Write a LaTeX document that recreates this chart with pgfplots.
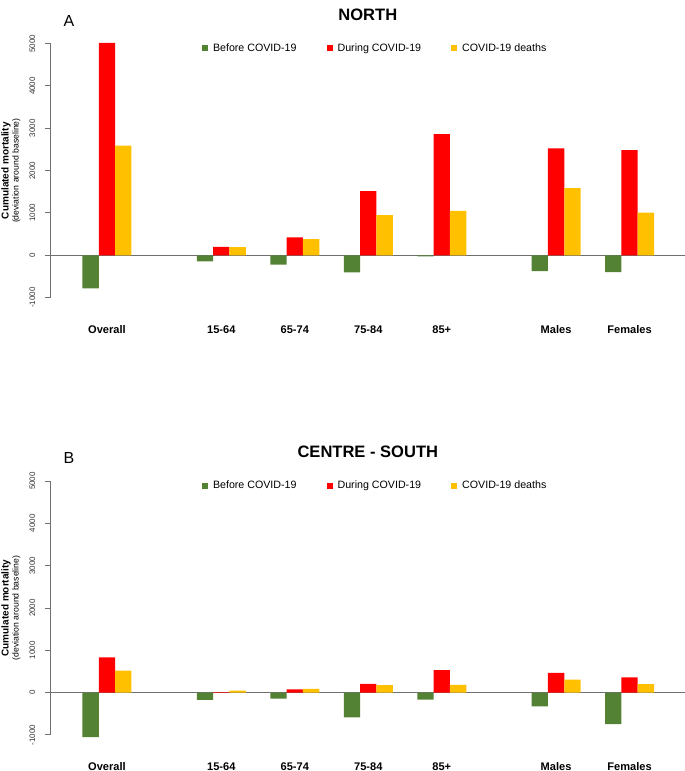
\documentclass[border=0pt]{standalone}
\usepackage{fontspec}
\setmainfont{Liberation Sans}
\usepackage{pgfplots}
\usepackage{pgfplotstable}
\pgfplotsset{compat=1.18}
\definecolor{cgreen}{HTML}{548235}
\definecolor{cred}{HTML}{FF0000}
\definecolor{cyellow}{HTML}{FFC000}
\definecolor{axgray}{HTML}{707070}

\pgfplotstableread{
x before during deaths
0 -780 5020 2590
7 -140 200 195
11.5 -220 425 385
16 -405 1515 950
20.5 -25 2865 1050
27.5 -375 2525 1585
32 -395 2485 1010
}\north

\pgfplotstableread{
x before during deaths
0 -1050 835 520
7 -170 15 48
11.5 -140 80 88
16 -585 207 176
20.5 -165 533 183
27.5 -325 466 308
32 -745 360 199
}\south

\pgfplotsset{panel/.style={
  scale only axis, width=475.7pt, height=190.5pt,
  xmin=-3.448, xmax=35.39, ymin=-1000, ymax=5000,
  clip=false,
  axis lines*=left,
  x axis line style={draw=none},
  y axis line style={draw=axgray, line width=0.75pt},
  xtick={0,7,11.5,16,20.5,27.5,32},
  xticklabels={Overall,15-64,65-74,75-84,85+,Males,Females},
  x tick style={draw=none},
  xticklabel style={font=\bfseries\fontsize{8.3}{10}\selectfont, anchor=center, yshift=-19.2pt},
  ytick={-1000,0,1000,2000,3000,4000,5000},
  yticklabels={-1000,0,1000,2000,3000,4000,5000},
  y tick style={draw=axgray, line width=0.75pt},
  tick align=outside, major tick length=4.5pt,
  yticklabel style={rotate=90, anchor=center, yshift=9.3pt, font=\fontsize{6}{7}\selectfont, text=black!80},
  ylabel={\textbf{Cumulated mortality}\\{\fontsize{6.5}{7.5}\selectfont(deviation around baseline)}},
  ylabel style={align=center, font=\fontsize{7.5}{7.5}\selectfont, at={(axis description cs:-0.0626,0.5)}, anchor=center},
  legend columns=3,
  legend style={draw=none, fill=none, inner sep=0pt, outer sep=0pt, font=\fontsize{8}{9.6}\selectfont,
    at={(axis description cs:0.2386,0.982)}, anchor=west,
    nodes={inner sep=0pt},
    /tikz/every even column/.append style={column sep=22.5pt},
    /tikz/every odd column/.append style={column sep=3.75pt}},
  title style={at={(axis description cs:0.5,1.082)}, anchor=center, font=\bfseries\fontsize{12.4}{14}\selectfont},
}}

\begin{document}
\begin{tikzpicture}
\useasboundingbox (0,0) rectangle (513.75pt,578.25pt);
\begin{axis}[panel, at={(38pt,355pt)}, anchor=south west, title={NORTH}]
\addplot[axgray, line width=0.75pt, forget plot] coordinates {(-3.448,0) (35.39,0)};
\addplot[axgray, line width=0.75pt, forget plot] coordinates {(-3.448,-1000) (-3.448,5000)};
\addplot[ybar, bar width=1, bar shift=-1, fill=cgreen, draw=none,
  legend image code/.code={\fill[cgreen] (0pt,-2.25pt) rectangle (4.5pt,2.25pt);}] table[x=x,y=before]{\north};
\addplot[ybar, bar width=1, bar shift=0, fill=cred, draw=none,
  legend image code/.code={\fill[cred] (0pt,-2.25pt) rectangle (4.5pt,2.25pt);}] table[x=x,y=during]{\north};
\addplot[ybar, bar width=1, bar shift=1, fill=cyellow, draw=none,
  legend image code/.code={\fill[cyellow] (0pt,-2.25pt) rectangle (4.5pt,2.25pt);}] table[x=x,y=deaths]{\north};
\legend{Before COVID-19,During COVID-19,COVID-19 deaths}
\node[font=\fontsize{12}{14}\selectfont] at (rel axis cs:0.0289,1.089) {A};
\end{axis}
\begin{axis}[panel, at={(38pt,27pt)}, anchor=south west, title={CENTRE - SOUTH}]
\addplot[axgray, line width=0.75pt, forget plot] coordinates {(-3.448,0) (35.39,0)};
\addplot[axgray, line width=0.75pt, forget plot] coordinates {(-3.448,-1000) (-3.448,5000)};
\addplot[ybar, bar width=1, bar shift=-1, fill=cgreen, draw=none,
  legend image code/.code={\fill[cgreen] (0pt,-2.25pt) rectangle (4.5pt,2.25pt);}] table[x=x,y=before]{\south};
\addplot[ybar, bar width=1, bar shift=0, fill=cred, draw=none,
  legend image code/.code={\fill[cred] (0pt,-2.25pt) rectangle (4.5pt,2.25pt);}] table[x=x,y=during]{\south};
\addplot[ybar, bar width=1, bar shift=1, fill=cyellow, draw=none,
  legend image code/.code={\fill[cyellow] (0pt,-2.25pt) rectangle (4.5pt,2.25pt);}] table[x=x,y=deaths]{\south};
\legend{Before COVID-19,During COVID-19,COVID-19 deaths}
\node[font=\fontsize{12}{14}\selectfont] at (rel axis cs:0.0289,1.089) {B};
\end{axis}
\end{tikzpicture}
\end{document}
